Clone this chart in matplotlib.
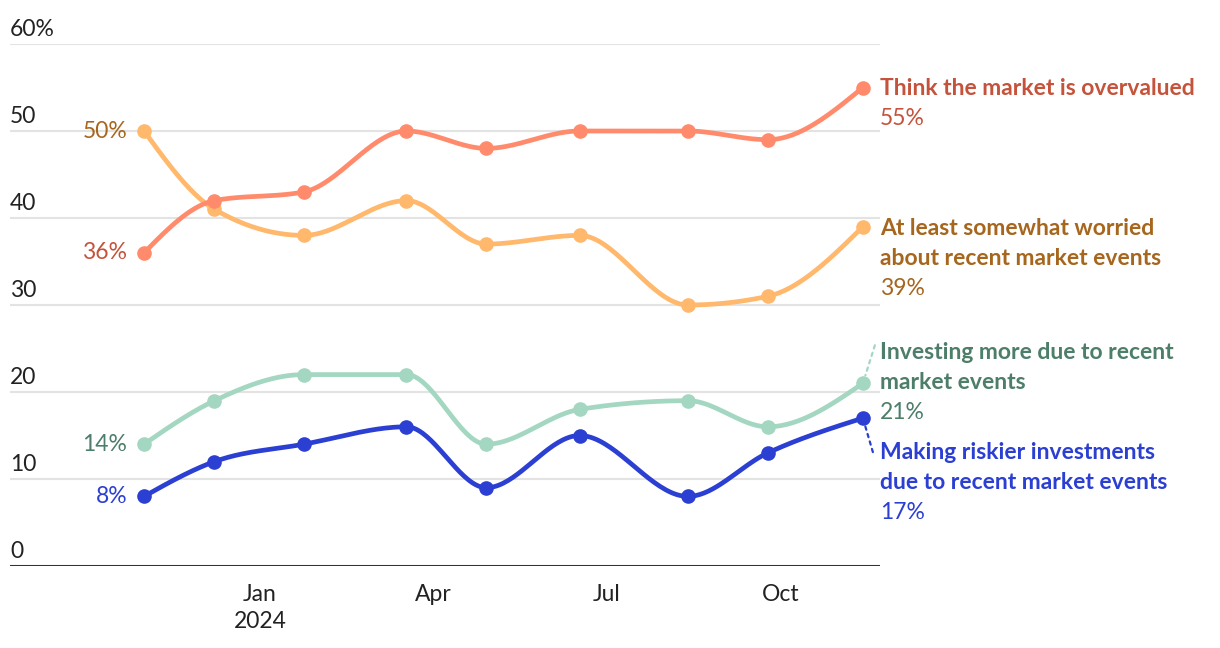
import numpy as np
import matplotlib
matplotlib.use('Agg')
import matplotlib.pyplot as plt
import matplotlib.dates as mdates
from datetime import datetime

plt.rcParams['font.family'] = ['Lato', 'DejaVu Sans']

dates = ['2023-11-01', '2023-12-08', '2024-01-24', '2024-03-18', '2024-04-29',
         '2024-06-17', '2024-08-13', '2024-09-24', '2024-11-13']
overvalued = [36, 42, 43, 50, 48, 50, 50, 49, 55]
worried = [50, 41, 38, 42, 37, 38, 30, 31, 39]
investing_more = [14, 19, 22, 22, 14, 18, 19, 16, 21]
riskier = [8, 12, 14, 16, 9, 15, 8, 13, 17]

y_ticks = [0, 10, 20, 30, 40, 50, 60]
x_ticks = ['2024-01-01', '2024-04-01', '2024-07-01', '2024-10-01']
x_tick_labels = ['Jan\n2024', 'Apr', 'Jul', 'Oct']

PT = 0.72  # points per pixel at dpi 100

series = [
    # values, line colour, text colour, label lines, first line offset (px, down), connector end (px)
    (worried, '#FFB86C', '#A6661E', ['At least somewhat worried', 'about recent market events'], 2, None),
    (overvalued, '#FF8B6C', '#C5533B', ['Think the market is overvalued'], 1, None),
    (investing_more, '#A4D7C1', '#4C7E69', ['Investing more due to recent', 'market events'], -31, (12, -38)),
    (riskier, '#2B3FD2', '#2B3FD2', ['Making riskier investments', 'due to recent market events'], 34, (10, 34)),
]


def monotone_x(x, y, n=40):
    # d3 curveMonotoneX
    x = np.asarray(x, float)
    y = np.asarray(y, float)
    h = np.diff(x)
    s = np.diff(y) / h
    t = np.zeros(len(x))
    for i in range(1, len(x) - 1):
        p = (s[i - 1] * h[i] + s[i] * h[i - 1]) / (h[i - 1] + h[i])
        t[i] = (np.sign(s[i - 1]) + np.sign(s[i])) * min(abs(s[i - 1]), abs(s[i]), 0.5 * abs(p))
    t[0] = (3 * s[0] - t[1]) / 2
    t[-1] = (3 * s[-1] - t[-2]) / 2
    xs, ys = [], []
    for i in range(len(x) - 1):
        u = np.linspace(0, 1, n)
        h00 = 2 * u**3 - 3 * u**2 + 1
        h10 = u**3 - 2 * u**2 + u
        h01 = -2 * u**3 + 3 * u**2
        h11 = u**3 - u**2
        xs.append(x[i] + u * h[i])
        ys.append(h00 * y[i] + h10 * h[i] * t[i] + h01 * y[i + 1] + h11 * h[i] * t[i + 1])
    return np.concatenate(xs), np.concatenate(ys)


W, H = 1220, 648
fig = plt.figure(figsize=(W / 100, H / 100), dpi=100)
ax = fig.add_axes([10 / W, (H - 566) / H, 870 / W, 522 / H])

xd = mdates.date2num([datetime.strptime(d, '%Y-%m-%d') for d in dates])
jan = mdates.date2num(datetime(2024, 1, 1))
ax.set_xlim(jan - 131.5, jan + 326)
ax.set_ylim(0, 60)

for v in y_ticks[1:]:
    ax.axhline(v, color='#E3E3E3', lw=1.5, zorder=0)
ax.axhline(0, color='#333333', lw=2.2, zorder=1)

FS = 16.5
for v in y_ticks:
    ax.annotate(f'{v}%' if v == 60 else str(v), (0, v), xycoords=('axes fraction', 'data'),
                xytext=(0, 3), textcoords='offset points', ha='left', va='bottom',
                fontsize=FS, color='#222222', annotation_clip=False)

for vals, lc, tc, lines, dy, conn in series:
    cx, cy = monotone_x(xd, vals)
    ax.plot(cx, cy, color=lc, lw=3.4, solid_capstyle='round', zorder=3, clip_on=False)
    ax.plot(xd, vals, 'o', color=lc, ms=9.5, zorder=4, clip_on=False)
    ax.annotate(f'{vals[0]}%', (xd[0], vals[0]), xytext=(-12, 0), textcoords='offset points',
                ha='right', va='center', fontsize=FS, color=tc)
    for k, line in enumerate(lines):
        ax.annotate(line, (xd[-1], vals[-1]), xytext=(17 * PT, -(dy + 30 * k) * PT),
                    textcoords='offset points', ha='left', va='center',
                    fontsize=FS, fontweight='bold', color=tc, annotation_clip=False)
    ax.annotate(f'{vals[-1]}%', (xd[-1], vals[-1]), xytext=(17 * PT, -(dy + 30 * len(lines)) * PT),
                textcoords='offset points', ha='left', va='center', fontsize=FS, color=tc,
                annotation_clip=False)
    if conn is not None:
        ax.annotate('', (xd[-1], vals[-1]), xytext=(conn[0] * PT, -conn[1] * PT),
                    textcoords='offset points',
                    arrowprops=dict(arrowstyle='-', color=lc, lw=1.6, ls=(0, (1.5, 2)),
                                    shrinkA=0, shrinkB=6),
                    annotation_clip=False)

ax.set_xticks(mdates.date2num([datetime.strptime(d, '%Y-%m-%d') for d in x_ticks]))
ax.set_xticklabels(x_tick_labels, fontsize=FS, color='#222222', linespacing=1.35)
ax.tick_params(axis='x', length=0, pad=13)
ax.set_yticks([])
for sp in ax.spines.values():
    sp.set_visible(False)

fig.savefig('out.png', dpi=100)
